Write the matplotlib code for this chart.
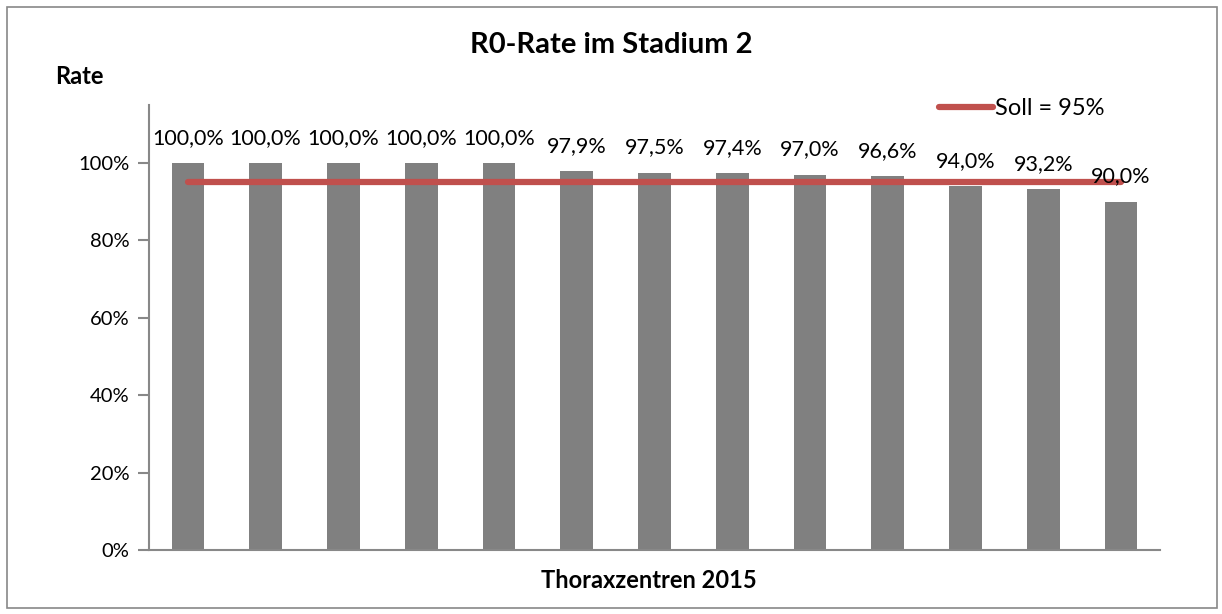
import matplotlib
matplotlib.use("Agg")
import matplotlib.pyplot as plt
import numpy as np
from matplotlib.patches import Rectangle
from matplotlib.lines import Line2D

values = [100.0, 100.0, 100.0, 100.0, 100.0, 97.9, 97.5, 97.4, 97.0, 96.6, 94.0, 93.2, 90.0]
labels = ["100,0%", "100,0%", "100,0%", "100,0%", "100,0%", "97,9%", "97,5%", "97,4%",
          "97,0%", "96,6%", "94,0%", "93,2%", "90,0%"]
soll = 95
yticks = [0, 20, 40, 60, 80, 100]
ytick_labels = ["0%", "20%", "40%", "60%", "80%", "100%"]

plt.rcParams['font.family'] = ['Lato', 'DejaVu Sans']

W, H = 1222, 614
fig = plt.figure(figsize=(W / 100, H / 100), dpi=100)
fig.patches.append(Rectangle((7 / W, 6 / H), 1210 / W, 601 / H, transform=fig.transFigure,
                             fill=False, edgecolor="#888888", linewidth=1.2))

ax = fig.add_axes([149 / W, (H - 550) / H, (1160 - 149) / W, (550 - 105) / H])
x = np.arange(len(values))
ax.bar(x, values, width=0.42, color="#808080", zorder=2)
ax.plot(x, [soll] * len(x), color="#C0504D", linewidth=4.5, solid_capstyle="round", zorder=3)

for xi, v, lab in zip(x, values, labels):
    ax.annotate(lab, (xi, v), xytext=(0, 11), textcoords="offset points",
                ha="center", va="bottom", fontsize=15.5, color="#000000", zorder=4)

ax.set_xlim(-0.5, len(values) - 0.5)
ax.set_ylim(0, 115)
ax.set_yticks(yticks)
ax.set_yticklabels(ytick_labels, fontsize=14.5)
ax.set_xticks([])
for s in ["top", "right"]:
    ax.spines[s].set_visible(False)
for s in ["left", "bottom"]:
    ax.spines[s].set_color("#888888")
    ax.spines[s].set_linewidth(1.5)
ax.tick_params(axis="y", length=8, width=1.5, color="#888888", pad=6)

fig.text(611 / W, 1 - 45 / H, "R0-Rate im Stadium 2", ha="center", va="center",
         fontsize=21, fontweight="bold")
fig.text(55 / W, 1 - 76 / H, "Rate", ha="left", va="center", fontsize=17,
         fontweight="bold")
fig.text(649 / W, 1 - 580 / H, "Thoraxzentren 2015", ha="center", va="center", fontsize=17,
         fontweight="bold")

leg = ax.legend(handles=[Line2D([0], [0], color="#C0504D", linewidth=4.5, solid_capstyle="round")],
                labels=["Soll = 95%"], loc="upper right", bbox_to_anchor=(1126 / W, 1 - 77 / H),
                bbox_transform=fig.transFigure, frameon=False, fontsize=17,
                handlelength=2.3, handletextpad=0.1)

fig.savefig("out.png", dpi=100)
